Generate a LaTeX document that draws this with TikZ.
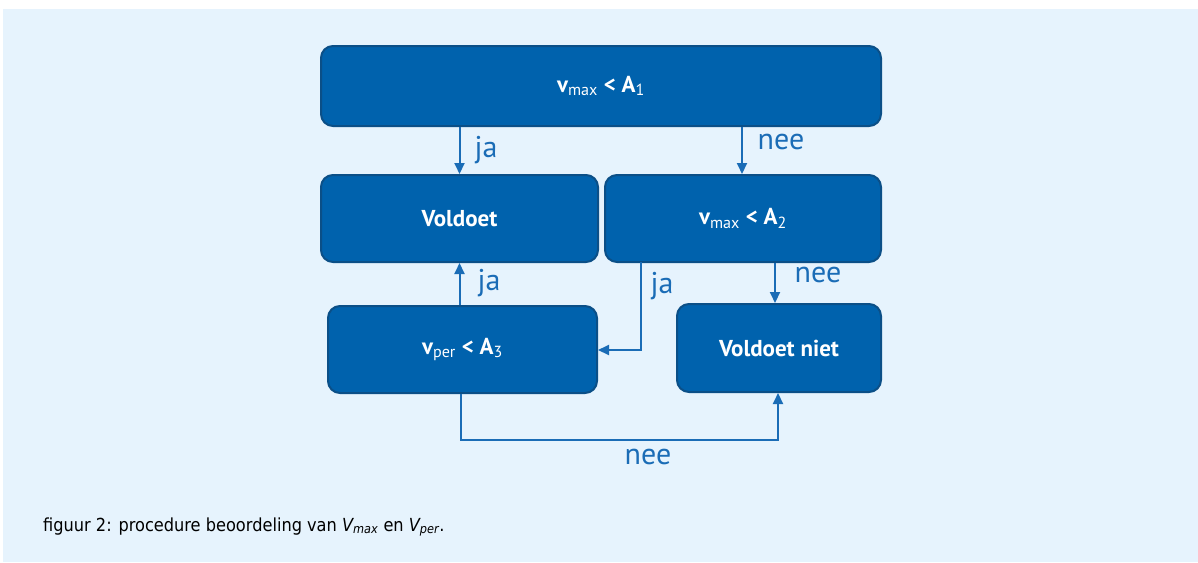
\documentclass[tikz,border=0pt]{standalone}
\usepackage{fontspec}
\setmainfont{PT Sans}
\newfontfamily\capfont{DejaVu Sans Condensed}
\usetikzlibrary{arrows.meta}
\definecolor{bgblue}{HTML}{E6F3FD}
\definecolor{boxfill}{HTML}{0062AD}
\definecolor{boxedge}{HTML}{0B4F87}
\definecolor{linecol}{HTML}{1A6CB6}
\tikzset{
  box/.style={draw=boxedge, line width=2pt, fill=boxfill, rounded corners=12pt, text=white, font=\bfseries\fontsize{23}{25}\selectfont},
  conn/.style={draw=linecol, line width=2pt, -{Triangle[length=11pt,width=10pt]}},
  lab/.style={text=linecol, font=\fontsize{30}{32}\selectfont, inner sep=0pt},
}
\newcommand{\sbs}[1]{\textsubscript{\mdseries #1}}
\begin{document}
\begin{tikzpicture}[x=1pt,y=-1pt]
\useasboundingbox (0,0) rectangle (1198,562);
\fill[white] (0,0) rectangle (1198,562);
\fill[bgblue] (3,9) rectangle (1198,562);
% boxes
\node[box, minimum width=560pt, minimum height=80pt] (top) at (601,86) {v\sbs{max} < A\sbs{1}};
\node[box, minimum width=277pt, minimum height=87pt] (vol) at (459.5,218.5) {Voldoet};
\node[box, minimum width=276pt, minimum height=87pt] (a2) at (743,218.5) {v\sbs{max} < A\sbs{2}};
\node[box, minimum width=269pt, minimum height=87pt] (a3) at (462.5,349.5) {v\sbs{per} < A\sbs{3}};
\node[box, minimum width=204pt, minimum height=88pt] (niet) at (779,348) {Voldoet niet};
% connectors
\draw[conn] (top.south -| vol.north) -- (vol.north);
\draw[conn] ([xshift=-1pt]top.south -| a2.north) -- ([xshift=-1pt]a2.north);
\draw[conn] (a3.north -| vol.south) -- (vol.south);
\coordinate (c2) at (641,262);
\coordinate (c3) at (641,350);
\draw[conn] (c2) -- (c3) -- (a3.east |- c3);
\draw[conn] (a2.south -| 775,0) -- (niet.north -| 775,0);
\coordinate (c4) at (461,440);
\coordinate (c5) at (778,440);
\draw[conn] (a3.south -| c4) -- (c4) -- (c5) -- (niet.south -| c5);
% labels
\node[lab] (l1) at (486,150) {ja};
\node[lab] (l2) at (781,142) {nee};
\node[lab] (l3) at (489,283) {ja};
\node[lab] (l4) at (662,286) {ja};
\node[lab] (l5) at (818,275) {nee};
\node[lab] (l6) at (648,457) {nee};
% caption
\node[anchor=west, inner sep=0pt, font=\capfont\fontsize{18}{20}\selectfont] (cap) at (43,527) {figuur 2: procedure beoordeling van \textit{V\textsubscript{max}} en \textit{V\textsubscript{per}}.};
\end{tikzpicture}
\end{document}
